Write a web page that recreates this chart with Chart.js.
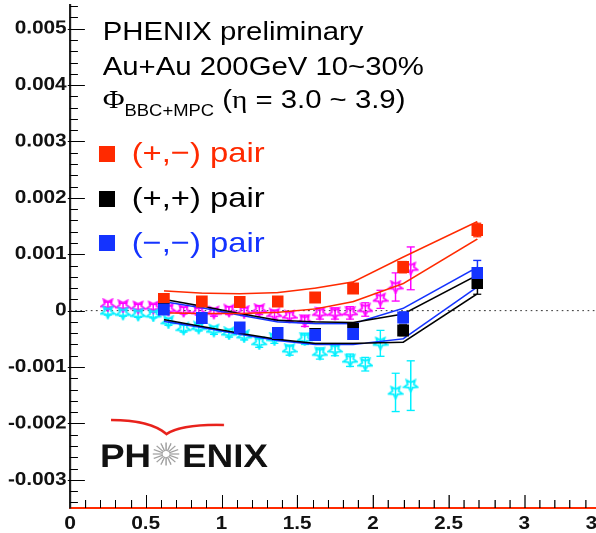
<!DOCTYPE html>
<html>
<head>
<meta charset="utf-8">
<script src="https://cdn.jsdelivr.net/npm/chart.js@4.4.0/dist/chart.umd.min.js"></script>
<style>
  html, body { margin: 0; padding: 0; background: #fff; }
  #frame { position: relative; width: 596px; height: 533px; overflow: hidden; }
  /* the reference is stretched sideways, so the whole drawing is too */
  #stretch { position: absolute; left: 0; top: 0; width: 540px; height: 533px;
             transform: scaleX(1.15); transform-origin: 0 0; }
  .note { position: absolute; white-space: nowrap; line-height: 1; color: #000;
          font-family: "Liberation Sans", Arial, sans-serif; }
  .serif { font-family: "Liberation Serif", "DejaVu Serif", serif; }
  .box { position: absolute; width: 14px; height: 16px; }
</style>
</head>
<body>
<div id="frame">
  <div id="stretch">
    <canvas id="myChart"></canvas>
    <div class="note" style="left:89.3px; top:19px; font-size:25.5px;">PHENIX preliminary</div>
    <div class="note" style="left:89.3px; top:54px; font-size:25.5px;">Au+Au 200GeV 10~30%</div>
    <div class="note" style="left:89.3px; top:86.5px; font-size:25.5px;"><span class="serif" style="font-size:26px;">&Phi;</span><span style="font-size:16px; position:relative; top:8px;">BBC+MPC</span> (<span class="serif">&eta;</span> = 3.0 ~ 3.9)</div>

    <div class="box" style="left:85.8px; top:145.5px; background:#ff2a00;"></div>
    <div class="note" style="left:114.5px; top:138px; font-size:28.5px; color:#ff2a00;">(+,&minus;) pair</div>
    <div class="box" style="left:85.8px; top:190.5px; background:#000;"></div>
    <div class="note" style="left:114.5px; top:183px; font-size:28.5px;">(+,+) pair</div>
    <div class="box" style="left:85.8px; top:235px; background:#1433ff;"></div>
    <div class="note" style="left:114.5px; top:227.5px; font-size:28.5px; color:#1433ff;">(&minus;,&minus;) pair</div>
  </div>
</div>
<script>
const S = 1.15; // horizontal stretch of the picture

// x positions of the pair points
const pairX = [0.62, 0.87, 1.12, 1.37, 1.62, 1.87, 2.2, 2.69];
// (+,-) pair
const pmVals = [0.00021, 0.00016, 0.00015, 0.00016, 0.00023, 0.00039, 0.00077, 0.00143];
const pmErr = [0.00005, 0.00005, 0.00005, 0.00005, 0.00006, 0.00007, 0.0001, 0.00012];
const pmHi = [0.00035, 0.00031, 0.0003, 0.00032, 0.0004, 0.00051, 0.00095, 0.00158];
const pmLo = [-0.00004, -0.00005, -0.00005, -0.00003, 0.00003, 0.00016, 0.00048, 0.00127];
// (+,+) pair
const ppVals = [0.00003, -0.00013, -0.0003, -0.00041, -0.00041, -0.00033, -0.00035, 0.00049];
const ppErr = [0.00005, 0.00005, 0.00005, 0.00006, 0.00006, 0.00007, 0.0001, 0.0002];
const ppHi = [0.0002, 0.00008, -0.00005, -0.00017, -0.0002, -0.00021, -0.00006, 0.00063];
const ppLo = [-0.00016, -0.00028, -0.0004, -0.00051, -0.00058, -0.00058, -0.00056, 0.0003];
// (-,-) pair
const mmVals = [0.00002, -0.00013, -0.0003, -0.0004, -0.00043, -0.00041, -0.00012, 0.00067];
const mmErr = [0.00005, 0.00005, 0.00005, 0.00006, 0.00006, 0.00007, 0.0001, 0.00022];
const mmHi = [0.00016, 0.00005, -0.00008, -0.0002, -0.00023, -0.00023, 0.00004, 0.00077];
const mmLo = [-0.00019, -0.0003, -0.00042, -0.00053, -0.0006, -0.0006, -0.0005, 0.00042];

// open star series
const starX = [0.25, 0.35, 0.45, 0.55, 0.65, 0.75, 0.85, 0.95, 1.05, 1.15, 1.25, 1.35, 1.45, 1.55, 1.65, 1.75, 1.85, 1.95, 2.05, 2.15, 2.25];
const magVals = [0.0001, 0.00008, 0.00006, 0.00006, 0.00002, 0.0, -0.00002, -0.00003, 0.0, -0.00002, 0.00001, -0.00007, -0.0001, -0.00018, -0.00005, -0.00005, -0.00004, 0.00002, 0.0002, 0.00042, 0.00075];
const magErr = [0.00005, 0.00005, 0.00005, 0.00005, 0.00006, 0.00006, 0.00006, 0.00007, 0.00007, 0.00007, 0.00008, 0.00008, 0.00009, 0.0001, 0.0001, 0.0001, 0.00011, 0.00012, 0.00016, 0.00025, 0.00038];
const cyanVals = [-0.00003, -0.00005, -0.00007, -0.00008, -0.0002, -0.00032, -0.0003, -0.00035, -0.0004, -0.00045, -0.00057, -0.0005, -0.0007, -0.0005, -0.00076, -0.0007, -0.00088, -0.00095, -0.00058, -0.00145, -0.00133];
const cyanErr = [0.00005, 0.00005, 0.00005, 0.00005, 0.00006, 0.00006, 0.00006, 0.00007, 0.00007, 0.00007, 0.00008, 0.00008, 0.00009, 0.0001, 0.0001, 0.0001, 0.00011, 0.00012, 0.00023, 0.00034, 0.00044];

const zeroX = [0, 3.5];
const zeroY = [0, 0];
const yTicks = [-0.003, -0.002, -0.001, 0, 0.001, 0.002, 0.003, 0.004, 0.005];

const RED = "#ff2a00";
const BLUE = "#1433ff";
const MAG = "#ff00ff";
const CYAN = "#00f0ff";

const pts = (xs, ys) => xs.map((x, i) => ({ x, y: ys[i] }));

function starImage(color) {
  const c = document.createElement("canvas");
  c.width = 14;
  c.height = 14;
  const g = c.getContext("2d");
  g.strokeStyle = color;
  g.lineWidth = 1.6;
  g.lineJoin = "miter";
  g.beginPath();
  for (let k = 0; k < 10; k++) {
    const r = k % 2 ? 2.8 : 6.3;
    const a = Math.PI / 2 + (k * Math.PI) / 5;
    const px = 7 + r * Math.cos(a);
    const py = 6.6 + r * Math.sin(a);
    if (k) g.lineTo(px, py);
    else g.moveTo(px, py);
  }
  g.closePath();
  g.stroke();
  return c;
}

function boxImage(color) {
  const c = document.createElement("canvas");
  c.width = 10;
  c.height = 12;
  const g = c.getContext("2d");
  g.fillStyle = color;
  g.fillRect(0, 0, 10, 12);
  return c;
}

function band(data, color) {
  return {
    type: "line",
    data,
    borderColor: color,
    borderWidth: 1.5,
    pointRadius: 0,
    fill: false,
    order: 4,
  };
}

// error bars, drawn under the markers
const errorBars = {
  id: "errorBars",
  beforeDatasetsDraw(chart) {
    const { ctx, scales: { x, y } } = chart;
    ctx.save();
    chart.data.datasets.forEach((ds) => {
      if (!ds.errors) return;
      ctx.strokeStyle = ds.errColor;
      ctx.lineWidth = 1.3;
      ds.data.forEach((p, i) => {
        const px = x.getPixelForValue(p.x);
        const y1 = y.getPixelForValue(p.y + ds.errors[i]);
        const y2 = y.getPixelForValue(p.y - ds.errors[i]);
        ctx.beginPath();
        ctx.moveTo(px, y1);
        ctx.lineTo(px, y2);
        ctx.moveTo(px - 3.5, y1);
        ctx.lineTo(px + 3.5, y1);
        ctx.moveTo(px - 3.5, y2);
        ctx.lineTo(px + 3.5, y2);
        ctx.stroke();
      });
    });
    ctx.restore();
  },
};

// ROOT style ticks pointing into the frame, plus the PHENIX logo
const frameDecor = {
  id: "frameDecor",
  afterDraw(chart) {
    const { ctx, chartArea: a, scales: { x, y } } = chart;
    ctx.save();
    ctx.strokeStyle = "#000";
    ctx.lineWidth = 1;
    ctx.beginPath();
    for (let i = -34; i <= 54; i += 2) {
      const py = Math.round(y.getPixelForValue(i / 10000)) + 0.5;
      const len = i % 10 === 0 ? 13 : 7;
      ctx.moveTo(a.left - (i % 10 === 0 ? 2 : 0), py);
      ctx.lineTo(a.left + len, py);
    }
    for (let i = 1; i <= 35; i++) {
      const px = Math.round(x.getPixelForValue(i / 10)) + 0.5;
      const len = i % 5 === 0 ? 13 : 8;
      ctx.moveTo(px, a.bottom);
      ctx.lineTo(px, a.bottom - len);
    }
    ctx.stroke();

    // logo swoosh
    ctx.strokeStyle = "#e8221c";
    ctx.lineWidth = 2.5;
    ctx.beginPath();
    ctx.moveTo(111 / S, 420);
    ctx.quadraticCurveTo(150 / S, 420, 166.5 / S, 434);
    ctx.quadraticCurveTo(182 / S, 424, 224 / S, 425);
    ctx.stroke();

    // logo sunburst
    const cx = 166 / S;
    const cy = 454;
    ctx.strokeStyle = "#a0a0a0";
    ctx.lineWidth = 1.2;
    ctx.beginPath();
    for (let k = 0; k < 16; k++) {
      const ang = (k * Math.PI) / 8;
      ctx.moveTo(cx + 3 * Math.cos(ang), cy + 3 * Math.sin(ang));
      ctx.lineTo(cx + 11.5 * Math.cos(ang), cy + 11.5 * Math.sin(ang));
    }
    ctx.stroke();

    ctx.fillStyle = "#111";
    ctx.font = "bold 32px 'Liberation Sans', Arial, sans-serif";
    ctx.textBaseline = "alphabetic";
    ctx.fillText("PH", 100 / S, 467);
    ctx.fillText("ENIX", 182 / S, 467);
    ctx.restore();
  },
};

const chartdata = {
  datasets: [
    {
      type: "line",
      data: pts(zeroX, zeroY),
      borderColor: "#333",
      borderWidth: 1,
      borderDash: [1.5, 3],
      pointRadius: 0,
      order: 10,
    },
    {
      type: "scatter",
      data: pts(starX, magVals),
      errors: magErr,
      errColor: MAG,
      pointStyle: starImage(MAG),
      order: 6,
    },
    {
      type: "scatter",
      data: pts(starX, cyanVals),
      errors: cyanErr,
      errColor: CYAN,
      pointStyle: starImage(CYAN),
      order: 5,
    },
    band(pts(pairX, pmHi), RED),
    band(pts(pairX, pmLo), RED),
    band(pts(pairX, ppHi), "#000"),
    band(pts(pairX, ppLo), "#000"),
    band(pts(pairX, mmHi), BLUE),
    band(pts(pairX, mmLo), BLUE),
    {
      type: "scatter",
      label: "(+,-) pair",
      data: pts(pairX, pmVals),
      errors: pmErr,
      errColor: RED,
      pointStyle: boxImage(RED),
      order: 3,
    },
    {
      type: "scatter",
      label: "(+,+) pair",
      data: pts(pairX, ppVals),
      errors: ppErr,
      errColor: "#000",
      pointStyle: boxImage("#000"),
      order: 2,
    },
    {
      type: "scatter",
      label: "(-,-) pair",
      data: pts(pairX, mmVals),
      errors: mmErr,
      errColor: BLUE,
      pointStyle: boxImage(BLUE),
      order: 1,
    },
  ],
};

const tickFont = { family: "'Liberation Sans', Arial, sans-serif", size: 18, weight: "bold" };

const config = {
  type: "scatter",
  data: chartdata,
  options: {
    responsive: true,
    maintainAspectRatio: false,
    animation: false,
    devicePixelRatio: 2,
    layout: { padding: { left: 0, top: 0, right: 18.26, bottom: 0 } },
    plugins: { legend: { display: false }, tooltip: { enabled: false } },
    scales: {
      x: {
        type: "linear",
        min: 0,
        max: 3.5,
        grid: { display: false, drawTicks: false },
        border: { display: true, color: "#ff2a00", width: 2 },
        ticks: {
          stepSize: 0.5,
          padding: 5,
          color: "#111",
          font: tickFont,
          maxRotation: 0,
          autoSkip: false,
          callback: (v) => String(v),
        },
        afterFit: (axis) => {
          axis.height = 25;
          axis.paddingLeft = 0;
          axis.paddingRight = 0;
        },
      },
      y: {
        type: "linear",
        min: -0.0035,
        max: 0.00542,
        grid: { display: false, drawTicks: false },
        border: { display: true, color: "#222", width: 2 },
        ticks: {
          padding: 3,
          color: "#111",
          font: tickFont,
          callback: (v) => (Math.abs(v) < 1e-9 ? "0" : v.toFixed(3)),
        },
        afterBuildTicks: (axis) => {
          axis.ticks = yTicks.map((v) => ({ value: v }));
        },
        afterFit: (axis) => {
          axis.width = 70 / S;
          axis.paddingTop = 0;
          axis.paddingBottom = 0;
        },
      },
    },
  },
  plugins: [errorBars, frameDecor],
};

const ctx = document.querySelector("#myChart");
const myChart = new Chart(ctx, config);
</script>
</body>
</html>
